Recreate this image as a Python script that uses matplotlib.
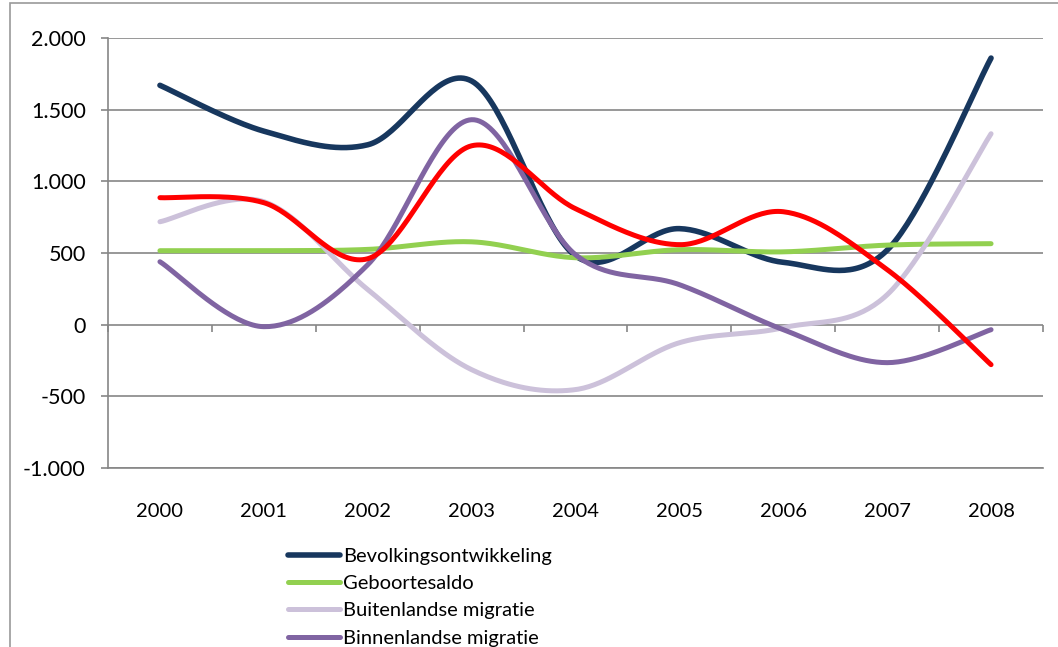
import numpy as np
import matplotlib.pyplot as plt
from matplotlib.patches import Rectangle
from matplotlib.ticker import FuncFormatter

years = ["2000", "2001", "2002", "2003", "2004", "2005", "2006", "2007", "2008"]

bevolking = [1670, 1350, 1255, 1700, 480, 670, 435, 520, 1860]
geboorte = [516, 516, 525, 578, 467, 523, 508, 555, 565]
buitenland = [718, 858, 245, -314, -453, -126, -21, 209, 1332]
binnenland = [439, -14, 418, 1430, 488, 279, -35, -265, -35]
rood = [886, 851, 460, 1248, 809, 558, 788, 384, -279]

series = [
    ("Bevolkingsontwikkeling", bevolking, "#17375E", 4.0),
    ("Geboortesaldo", geboorte, "#92D050", 3.6),
    ("Buitenlandse migratie", buitenland, "#CCC1DA", 3.6),
    ("Binnenlandse migratie", binnenland, "#8064A2", 3.6),
    ("Overig", rood, "#FF0000", 3.6),
]


def smooth(y, n=40):
    # Excel-like smoothed line: cubic Bezier with Catmull-Rom control points
    y = np.asarray(y, dtype=float)
    x = np.arange(len(y), dtype=float)
    pts = np.column_stack([x, y])
    ext = np.vstack([pts[0], pts, pts[-1]])
    out = [pts[:1]]
    t = np.linspace(0, 1, n)[1:, None]
    for i in range(len(pts) - 1):
        p0, p1, p2, p3 = ext[i], ext[i + 1], ext[i + 2], ext[i + 3]
        c1 = p1 + (p2 - p0) / 6
        c2 = p2 - (p3 - p1) / 6
        seg = ((1 - t) ** 3) * p1 + 3 * ((1 - t) ** 2) * t * c1 + 3 * (1 - t) * t ** 2 * c2 + t ** 3 * p2
        out.append(seg)
    out = np.vstack(out)
    return out[:, 0], out[:, 1]


plt.rcParams["font.family"] = ["Lato", "DejaVu Sans"]

fig = plt.figure(figsize=(10.58, 6.47), dpi=100)
ax = fig.add_axes([108 / 1058, 1 - 468 / 647, 935 / 1058, 430 / 647])

fig.patches.append(Rectangle((10 / 1058, -0.05), 1.2, 1 - 3 / 647 + 0.05, transform=fig.transFigure,
                             fill=False, edgecolor="#9A9A9A", linewidth=1.2))

for label, vals, color, lw in series:
    xs, ys = smooth(vals)
    ax.plot(xs, ys, color=color, lw=lw, solid_capstyle="round", label=label)

ax.set_xlim(-0.5, len(years) - 0.5)
ax.set_ylim(-1000, 2000)
ax.set_yticks(np.arange(-1000, 2001, 500))
ax.yaxis.set_major_formatter(FuncFormatter(lambda v, p: f"{int(v):,}".replace(",", ".")))
ax.grid(axis="y", color="#868686", lw=1.2)
ax.set_axisbelow(True)

ax.set_xticks(range(len(years)))
ax.set_xticklabels(years)
ax.tick_params(axis="x", length=0, pad=25, labelsize=14.5)
ax.tick_params(axis="y", length=5, color="#868686", width=1.2, labelsize=15.5, pad=11)

for s in ["top", "right"]:
    ax.spines[s].set_visible(False)
ax.spines["left"].set_color("#868686")
ax.spines["left"].set_linewidth(1.2)
ax.spines["bottom"].set_color("#868686")
ax.spines["bottom"].set_linewidth(1.2)

# category axis crossing at zero with tick marks between categories
sec = ax.secondary_xaxis(1 / 3)
sec.set_xticks(np.arange(-0.5, len(years), 1.0), labels=[""] * (len(years) + 1))
sec.xaxis.set_ticks_position("bottom")
sec.tick_params(axis="x", direction="out", length=5, color="#868686", width=1.2)
sec.spines["bottom"].set_visible(False)
sec.spines["top"].set_visible(False)

handles, labels = ax.get_legend_handles_labels()
fig.legend(handles[:4], labels[:4], loc="upper left", bbox_to_anchor=(288 / 1058, 1 - 548 / 647),
           frameon=False, fontsize=14.5, handlelength=2.6, handletextpad=0.15, labelspacing=0.5,
           borderaxespad=0, borderpad=0)

fig.savefig("out.png", dpi=100)
